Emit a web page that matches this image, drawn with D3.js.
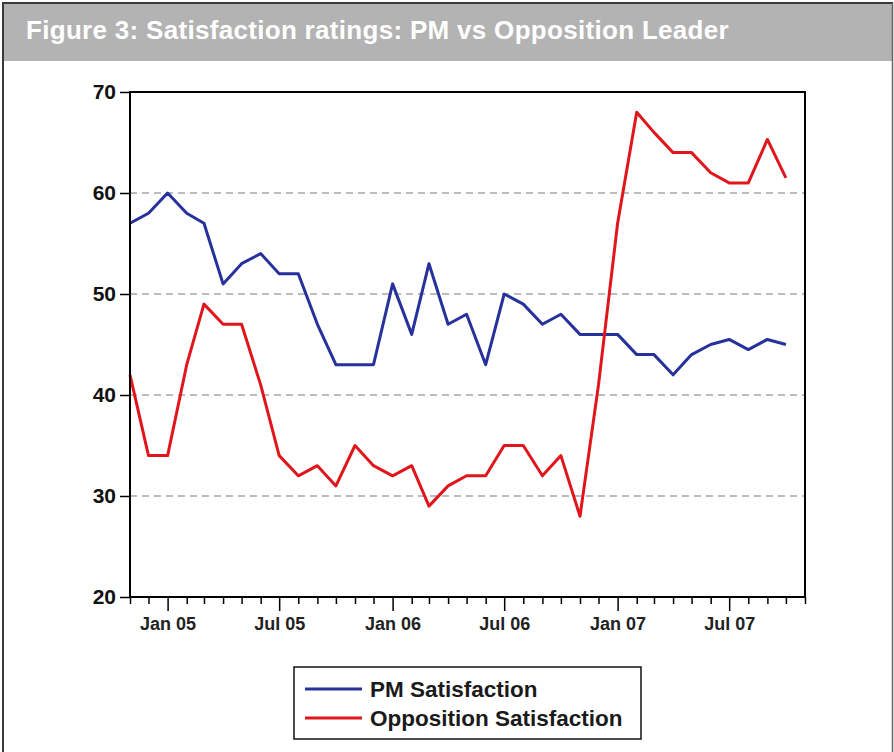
<!DOCTYPE html>
<html>
<head>
<meta charset="utf-8">
<script src="https://cdnjs.cloudflare.com/ajax/libs/d3/7.8.5/d3.min.js"></script>
<style>
  body { margin: 0; background: #fff; }
  svg { display: block; font-family: "Liberation Sans", Arial, sans-serif; }
</style>
</head>
<body>
<div id="chart"></div>
<script>
// Monthly observations, Nov 2004 to Oct 2007
const startMonth = "2004-11-01";
const pmSatisfaction = [57, 58, 60, 58, 57, 51, 53, 54, 52, 52, 47, 43, 43, 43, 51, 46, 53, 47,
    48, 43, 50, 49, 47, 48, 46, 46, 46, 44, 44, 42, 44, 45, 45.5, 44.5, 45.5, 45];
const oppSatisfaction = [42, 34, 34, 43, 49, 47, 47, 41, 34, 32, 33, 31, 35, 33, 32, 33, 29, 31,
    32, 32, 35, 35, 32, 34, 28, 41, 57, 68, 66, 64, 64, 62, 61, 61, 65.3, 61.5];
const yTicks = [20, 30, 40, 50, 60, 70];
const gridValues = [30, 40, 50, 60];
const labelMonths = ["2005-01-01", "2005-07-01", "2006-01-01", "2006-07-01", "2007-01-01", "2007-07-01"];
const seriesNames = ["PM Satisfaction", "Opposition Satisfaction"];
const seriesColors = ["#27319b", "#e0161c"];
const title = "Figure 3: Satisfaction ratings: PM vs Opposition Leader";

const width = 894, height = 752;
const plot = { left: 130, right: 805, top: 92, bottom: 597 };

const svg = d3.select("#chart").append("svg")
    .attr("width", width)
    .attr("height", height);

// Panel border and grey header band
svg.append("rect").attr("x", 4).attr("y", 4).attr("width", 888).attr("height", 57)
    .attr("fill", "#b3b3b3");
svg.append("line").attr("x1", 3).attr("x2", 3).attr("y1", 2).attr("y2", height)
    .attr("stroke", "#3a3a3a").attr("stroke-width", 2);
svg.append("line").attr("x1", 2).attr("x2", 893).attr("y1", 3).attr("y2", 3)
    .attr("stroke", "#3a3a3a").attr("stroke-width", 2);
svg.append("line").attr("x1", 892.5).attr("x2", 892.5).attr("y1", 3).attr("y2", height)
    .attr("stroke", "#666").attr("stroke-width", 1.5);

const titleText = svg.append("text")
    .attr("x", 26).attr("y", 39)
    .attr("fill", "#fff")
    .attr("font-weight", "bold")
    .attr("font-size", 26)
    .text(title);
// stretch the title a little to match the original width
const tw = titleText.node().getComputedTextLength();
titleText.attr("letter-spacing", ((703 - tw) / title.length) + "px");

// Scales
const parse = d3.utcParse("%Y-%m-%d");
const t0 = parse(startMonth);
const dates = pmSatisfaction.map((d, i) => d3.utcMonth.offset(t0, i));
const x = d3.scaleUtc()
    .domain([t0, d3.utcMonth.offset(t0, 36)])
    .range([plot.left, plot.right]);
const y = d3.scaleLinear().domain([20, 70]).range([plot.bottom, plot.top]);

// Dashed gridlines
svg.append("g").selectAll("line")
    .data(gridValues)
    .enter().append("line")
    .attr("x1", plot.left).attr("x2", plot.right)
    .attr("y1", d => y(d)).attr("y2", d => y(d))
    .attr("stroke", "#a6a6a6")
    .attr("stroke-width", 1.5)
    .attr("stroke-dasharray", "7,5");

// Series lines
const line = d3.line()
    .x((d, i) => x(dates[i]))
    .y(d => y(d));

[pmSatisfaction, oppSatisfaction].forEach((values, k) => {
    svg.append("path")
        .datum(values)
        .attr("d", line)
        .attr("fill", "none")
        .attr("stroke", seriesColors[k])
        .attr("stroke-width", 3)
        .attr("stroke-linejoin", "round");
});

// Frame
svg.append("rect")
    .attr("x", plot.left).attr("y", plot.top)
    .attr("width", plot.right - plot.left).attr("height", plot.bottom - plot.top)
    .attr("fill", "none").attr("stroke", "#000").attr("stroke-width", 2);

// Y axis
const yAxis = svg.append("g")
    .attr("transform", `translate(${plot.left},0)`)
    .call(d3.axisLeft(y).tickValues(yTicks).tickSize(10).tickPadding(4));
yAxis.select(".domain").remove();
yAxis.selectAll(".tick line").attr("stroke-width", 1.5);
yAxis.selectAll(".tick text")
    .attr("font-family", "'Liberation Sans', Arial, sans-serif")
    .attr("font-weight", "bold")
    .attr("font-size", 21)
    .attr("fill", "#111");

// X axis: monthly minor ticks, longer ticks with labels at Jan / Jul
const labelSet = new Set(labelMonths);
const fmtKey = d3.utcFormat("%Y-%m-%d");
const xAxis = svg.append("g")
    .attr("transform", `translate(0,${plot.bottom})`)
    .call(d3.axisBottom(x)
        .ticks(d3.utcMonth.every(1))
        .tickSize(7)
        .tickFormat(d => labelSet.has(fmtKey(d)) ? d3.utcFormat("%b %y")(d) : ""));
xAxis.select(".domain").remove();
xAxis.selectAll(".tick line")
    .attr("stroke-width", 1.5)
    .attr("y2", d => labelSet.has(fmtKey(d)) ? 14 : 7);
xAxis.selectAll(".tick text")
    .attr("y", 20)
    .attr("font-family", "'Liberation Sans', Arial, sans-serif")
    .attr("font-weight", "bold")
    .attr("font-size", 18)
    .attr("fill", "#222");

// Legend
const legend = svg.append("g");
legend.append("rect")
    .attr("x", 294).attr("y", 667)
    .attr("width", 347).attr("height", 72)
    .attr("fill", "#fff").attr("stroke", "#111").attr("stroke-width", 1.5);

seriesNames.forEach((name, k) => {
    const ly = 689 + k * 29;
    legend.append("line")
        .attr("x1", 305).attr("x2", 362)
        .attr("y1", ly).attr("y2", ly)
        .attr("stroke", seriesColors[k]).attr("stroke-width", 3);
    legend.append("text")
        .attr("x", 370).attr("y", ly + 8)
        .attr("font-size", 22.5)
        .attr("font-weight", "bold")
        .attr("fill", "#1a1a1a")
        .text(name);
});
</script>
</body>
</html>
